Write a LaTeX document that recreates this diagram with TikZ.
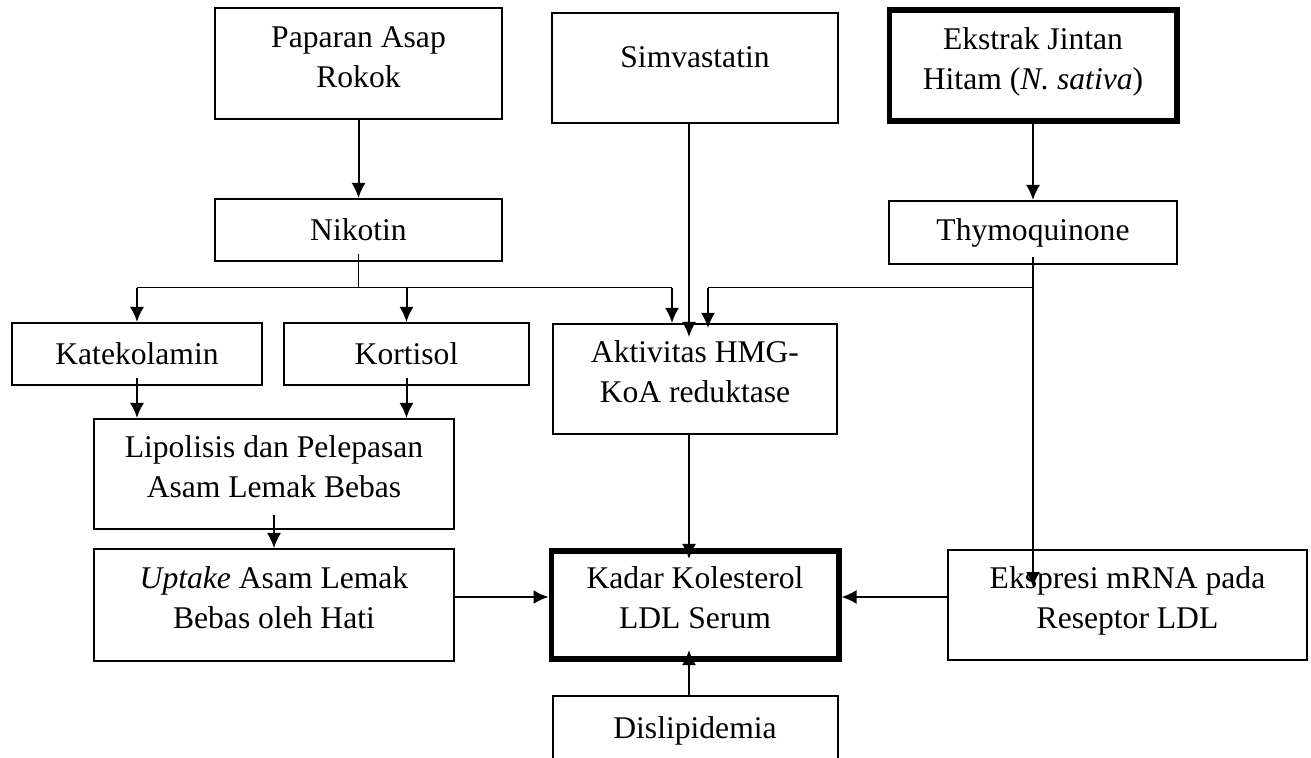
\documentclass[tikz, border=0pt]{standalone}
\usepackage{fontspec}
\setmainfont{Liberation Serif}
\usetikzlibrary{arrows.meta}
\tikzset{>={Latex[length=7.5pt, width=7pt]}}
\newcommand*{\dn}[1]{\rule[-#1]{0pt}{#1}}

\begin{document}
\begin{tikzpicture}[x=.5pt, y=-.5pt,
    box/.style={draw, line width=1pt, align=center, inner sep=0pt, font=\fontsize{15.8}{20}\selectfont},
    bold/.style={box, line width=2.8pt},
    arr/.style={->, line width=1pt},
    bus/.style={line width=.5pt}]
    \fill[white](0, 0)rectangle(1311, 758);
    \useasboundingbox(0, 0)rectangle(1311, 758);
    \node[box, minimum width=143.5pt, minimum height=55.5pt](rokok)at(358.5, 63.5){Paparan Asap\\Rokok\dn{6pt}};
    \node[box, minimum width=143.5pt, minimum height=31pt](nikotin)at(358.5, 230){Nikotin};
    \node[box, minimum width=143pt, minimum height=55pt](simva)at(695, 68){Simvastatin\dn{11pt}};
    \node[bold, minimum width=143.7pt, minimum height=55.7pt](ekstrak)at(1033, 65.5){Ekstrak Jintan\\Hitam (\textit{N. sativa})\dn{7pt}};
    \node[box, minimum width=144pt, minimum height=31.5pt](thymo)at(1033, 232.5){Thymoquinone};
    \node[box, minimum width=125pt, minimum height=31pt](kateko)at(137, 354){Katekolamin};
    \node[box, minimum width=122.5pt, minimum height=31pt](kortisol)at(406.5, 354){Kortisol};
    \node[box, minimum width=142pt, minimum height=55pt](hmg)at(695, 379){Aktivitas HMG-\\KoA reduktase\dn{7pt}};
    \node[box, minimum width=180pt, minimum height=55pt](lipo)at(274, 474){Lipolisis dan Pelepasan\\Asam Lemak Bebas\dn{7pt}};
    \node[box, minimum width=180pt, minimum height=56pt](uptake)at(274, 605){\textit{Uptake} Asam Lemak\\Bebas oleh Hati\dn{7pt}};
    \node[bold, minimum width=143.7pt, minimum height=54.2pt](kadar)at(695, 605){Kadar Kolesterol\\LDL Serum\dn{7pt}};
    \node[box, minimum width=179.5pt, minimum height=55pt](ekspresi)at(1127.5, 605){Ekspresi mRNA pada\\Reseptor LDL\dn{7pt}};
    \node[box, anchor=north, minimum width=142.5pt, minimum height=35pt](dislip)at(695, 695){Dislipidemia};

    \coordinate(nik-bus)at(358.5, 288);
    \coordinate(kat-bus)at(137, 288);
    \coordinate(kor-bus)at(406.5, 288);
    \coordinate(hmg-l)at(672, 288);
    \coordinate(hmg-r)at(708, 288);
    \coordinate(thy-bus)at(1033, 288);

    \draw[arr](rokok)--(nikotin);
    \draw[arr](ekstrak)--(thymo);
    \draw[bus]([yshift=4pt]nikotin.south)--(nik-bus);
    \draw[bus](kat-bus)--(hmg-l);
    \draw[arr](kat-bus)--(kateko);
    \draw[arr](kor-bus)--(kortisol);
    \draw[arr](hmg-l)--(hmg-l|-hmg.north);
    \draw[bus](thy-bus)--(hmg-r);
    \draw[arr](hmg-r)--([yshift=-2.5pt]hmg-r|-hmg.north);
    \draw[arr]([yshift=4pt]thymo.south)--([yshift=-19pt]thymo|-ekspresi.north);
    \draw[arr]([xshift=-3pt]simva.south)--([xshift=-3pt, yshift=-7pt]hmg.north);
    \draw[arr]([xshift=-3pt]hmg.south)--([xshift=-3pt, yshift=-5.5pt]kadar.north);
    \draw[arr]([yshift=4pt]kateko.south)--(kateko|-lipo.north);
    \draw[arr]([yshift=4pt]kortisol.south)--(kortisol|-lipo.north);
    \draw[arr, line width=.7pt]([yshift=7.5pt]lipo.south)--(uptake.north);
    \draw[arr]([yshift=4pt]uptake.east)--([yshift=4pt]kadar.west);
    \draw[arr]([yshift=4pt]ekspresi.west)--([yshift=4pt]kadar.east);
    \draw[arr]([xshift=-3pt]dislip.north)--([xshift=-3pt, yshift=6pt]kadar.south);
\end{tikzpicture}
\end{document}
